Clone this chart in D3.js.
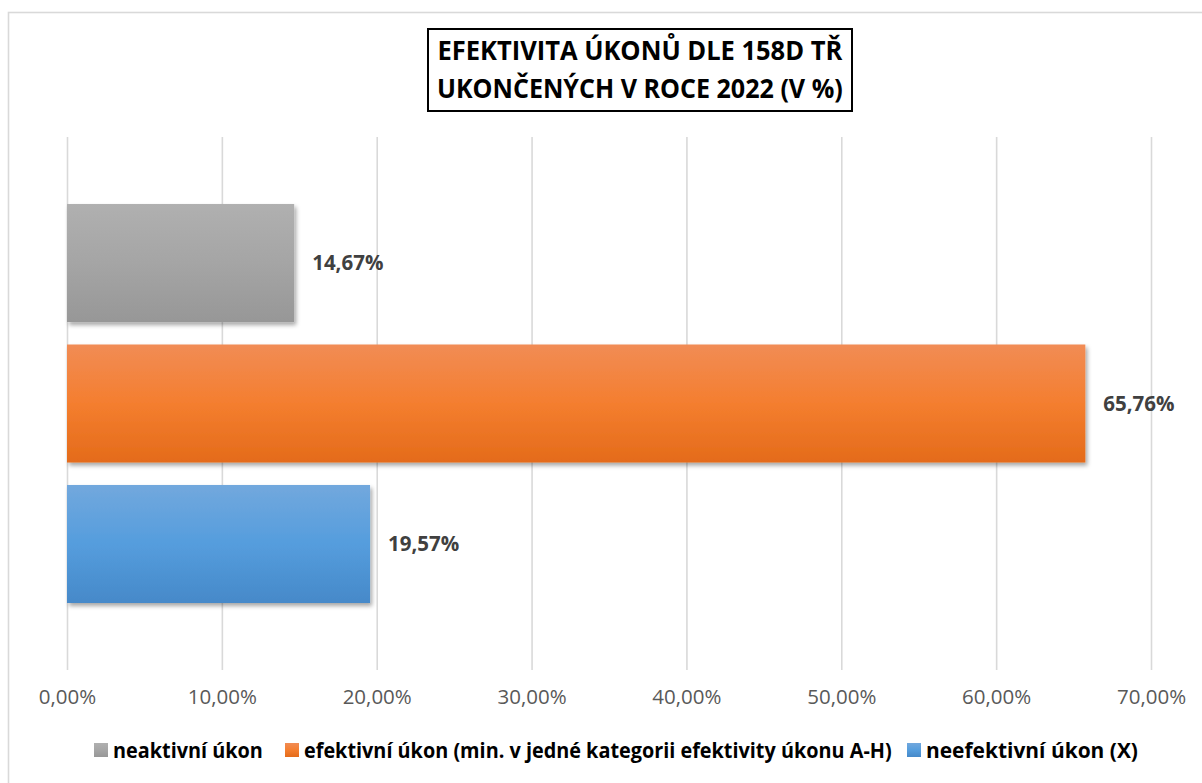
<!DOCTYPE html>
<html>
<head>
<meta charset="utf-8">
<script src="https://cdn.jsdelivr.net/npm/d3@7"></script>
<style>
  html, body { margin: 0; padding: 0; background: #fff; }
  svg { display: block; }
</style>
</head>
<body>
<svg id="chart" width="1202" height="783"></svg>
<script>
// ---- data ----
const titleLines = ["EFEKTIVITA ÚKONŮ DLE 158D TŘ", "UKONČENÝCH V ROCE 2022 (V %)"];
const seriesNames = ["neaktivní úkon", "efektivní úkon (min. v jedné kategorii efektivity úkonu A-H)", "neefektivní úkon (X)"];
const seriesValues = [14.67, 65.76, 19.57];
const valueLabels = ["14,67%", "65,76%", "19,57%"];
const tickValues = [0, 10, 20, 30, 40, 50, 60, 70];
const tickLabels = ["0,00%", "10,00%", "20,00%", "30,00%", "40,00%", "50,00%", "60,00%", "70,00%"];
const colorsTop = ["#b0b0b0", "#f18c55", "#72a8dd"];
const colorsMid = ["#a5a5a5", "#f47e2f", "#559ddd"];
const colorsBot = ["#979797", "#e46b1a", "#4689c9"];

const svg = d3.select("#chart");
const defs = svg.append("defs");

// gradients
seriesNames.forEach((s, i) => {
  const g = defs.append("linearGradient").attr("id", "grad" + i)
    .attr("x1", 0).attr("y1", 0).attr("x2", 0).attr("y2", 1);
  g.append("stop").attr("offset", "0%").attr("stop-color", colorsTop[i]);
  g.append("stop").attr("offset", "50%").attr("stop-color", colorsMid[i]);
  g.append("stop").attr("offset", "100%").attr("stop-color", colorsBot[i]);
});
const f = defs.append("filter").attr("id", "shadow")
  .attr("x", "-5%").attr("y", "-10%").attr("width", "115%").attr("height", "130%");
f.append("feDropShadow").attr("dx", 2).attr("dy", 3).attr("stdDeviation", 2.2)
  .attr("flood-color", "#000").attr("flood-opacity", 0.35);

// chart border
svg.append("rect").attr("x", 8.5).attr("y", 12.5).attr("width", 1200).attr("height", 780)
  .attr("fill", "#fff").attr("stroke", "#d9d9d9").attr("stroke-width", 1.6);

// scales
const x = d3.scaleLinear().domain([0, 70]).range([67, 1151]);
const plotTop = 137, plotBottom = 670;
const y = d3.scaleBand().domain(seriesNames).range([plotTop, plotBottom])
  .paddingInner(0.16).paddingOuter(0.477);

// gridlines via axis
const grid = svg.append("g").attr("transform", `translate(0,${plotBottom})`)
  .call(d3.axisBottom(x).tickValues(tickValues).tickSize(-(plotBottom - plotTop)).tickFormat(""));
grid.select(".domain").remove();
grid.selectAll(".tick line").attr("stroke", "#d9d9d9").attr("stroke-width", 1.6);

// tick labels
const axis = svg.append("g").attr("transform", `translate(0,${plotBottom})`)
  .call(d3.axisBottom(x).tickValues(tickValues).tickSize(0).tickPadding(19)
    .tickFormat((d, i) => tickLabels[i]));
axis.select(".domain").remove();
axis.selectAll(".tick text")
  .attr("fill", "#595959")
  .attr("font-family", "'Open Sans', 'Segoe UI', sans-serif")
  .attr("font-size", 20.5)
  .attr("dy", "0.71em");

// bars
svg.append("g").selectAll("rect").data(seriesNames).join("rect")
  .attr("x", x(0))
  .attr("y", d => y(d))
  .attr("width", (d, i) => x(seriesValues[i]) - x(0))
  .attr("height", y.bandwidth())
  .attr("fill", (d, i) => `url(#grad${i})`)
  .attr("filter", "url(#shadow)");

// value labels
svg.append("g").selectAll("text").data(seriesNames).join("text")
  .attr("x", (d, i) => x(seriesValues[i]) + 18)
  .attr("y", d => y(d) + y.bandwidth() / 2)
  .attr("dy", "0.36em")
  .attr("fill", "#404040")
  .attr("font-family", "'Open Sans', 'Segoe UI', sans-serif")
  .attr("font-weight", "bold")
  .attr("font-size", 20.5)
  .text((d, i) => valueLabels[i]);

// helper: place condensed text (Calibri-like) by horizontal scaling
function condensed(parent, txt, x0, y0, width, size, anchor) {
  const g = parent.append("g");
  const t = g.append("text").attr("x", 0).attr("y", 0)
    .attr("font-family", "'Open Sans', sans-serif")
    .attr("font-weight", "bold").attr("font-size", size).attr("fill", "#000")
    .text(txt);
  const w = t.node().getComputedTextLength();
  const sx = width / w;
  const left = anchor === "middle" ? x0 - width / 2 : x0;
  g.attr("transform", `translate(${left},${y0}) scale(${sx},1)`);
  return g;
}

// title
svg.append("rect").attr("x", 428).attr("y", 29).attr("width", 424).attr("height", 82)
  .attr("fill", "#fff").attr("stroke", "#000").attr("stroke-width", 2);
const tt = svg.append("g");
const titleY = [60, 98];
const titleW = [405, 406];
titleLines.forEach((t, i) => condensed(tt, t, 640, titleY[i], titleW[i], 27, "middle"));

// legend
const legX = [94, 285, 907];
const legW = [150, 588, 212];
const leg = svg.append("g");
seriesNames.forEach((s, i) => {
  leg.append("rect").attr("x", legX[i]).attr("y", 743).attr("width", 14).attr("height", 14)
    .attr("fill", `url(#grad${i})`);
  condensed(leg, s, legX[i] + 19, 758, legW[i], 22, "start");
});
</script>
</body>
</html>
